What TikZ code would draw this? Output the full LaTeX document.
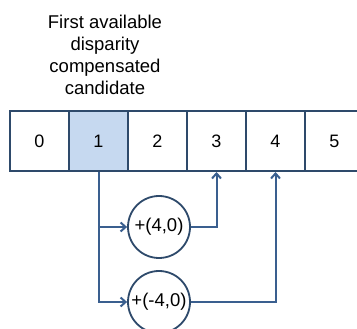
\documentclass[tikz,border=0pt]{standalone}
\usepackage{fontspec}
\setmainfont{Liberation Sans}
\usepackage{tikz}
\usetikzlibrary{arrows.meta}
\definecolor{cellline}{HTML}{2E4A6B}
\definecolor{wireline}{HTML}{3A5F8F}
\definecolor{cellfill}{HTML}{C6D9F0}
\tikzset{
  cell/.style={draw=cellline, line width=2pt, minimum width=59pt, minimum height=60pt, inner sep=0pt, font=\fontsize{18}{20}\selectfont},
  offset/.style={circle, draw=cellline, line width=1.8pt, minimum size=62pt, inner sep=0pt, font=\fontsize{18.5}{20}\selectfont},
  wire/.style={draw=wireline, line width=2pt, -{Straight Barb[length=5pt,width=9pt]}}
}

\begin{document}
\begin{tikzpicture}[x=1pt, y=-1pt]
\useasboundingbox (0,0) rectangle (357,329);
\coordinate (top) at (105,54.5);
\coordinate (row) at (39.5,141);
\coordinate (plus) at (159,227);
\coordinate (minus) at (159,302);
% draws the caption
\node[align=center, font=\fontsize{18.5}{22}\selectfont] (caption) at (top) {First available\\disparity\\compensated\\candidate};
% draws the candidate cells
\node[cell] (c0) at (row) {0};
\node[cell, fill=cellfill] (c1) at ([xshift=59pt]c0) {1};
\node[cell] (c2) at ([xshift=59pt]c1) {2};
\node[cell] (c3) at ([xshift=59pt]c2) {3};
\node[cell] (c4) at ([xshift=59pt]c3) {4};
\node[cell] (c5) at ([xshift=59pt]c4) {5};
% draws the offsets
\node[offset] (p4) at (plus) {+(4,0)};
\node[offset] (m4) at (minus) {+(-4,0)};
% draws connectors
\draw[wire] (c1.south) |- (p4.west);
\draw[wire] (c1.south) |- (m4.west);
\draw[wire] (p4.east) -| (c3.south);
\draw[wire] (m4.east) -| (c4.south);
\end{tikzpicture}
\end{document}
